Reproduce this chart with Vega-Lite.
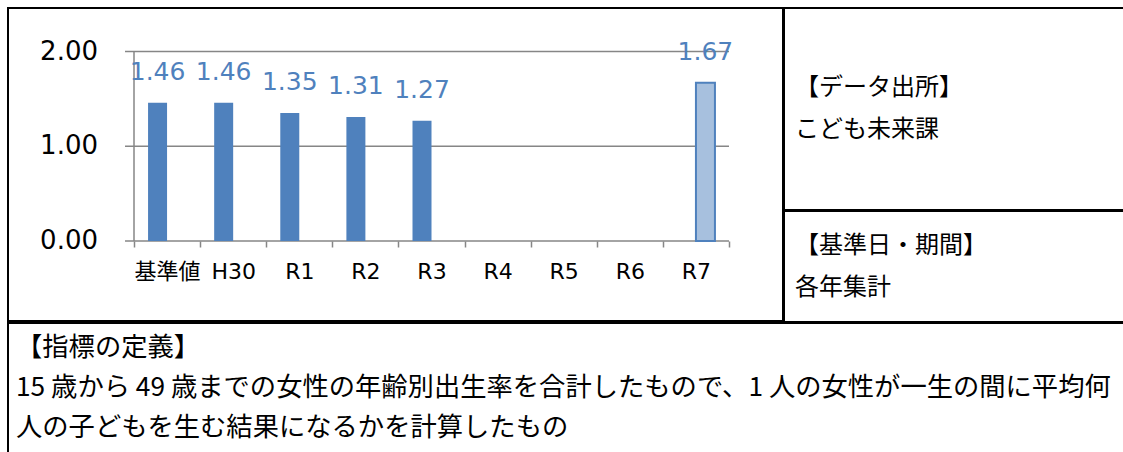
{
  "$schema": "https://vega.github.io/schema/vega-lite/v6.json",
  "padding": {"left": 7, "top": 7, "right": 0, "bottom": 0},
  "background": "white",
  "config": {
    "view": {"stroke": "#000000", "strokeWidth": 2},
    "font": "DejaVu Sans"
  },
  "datasets": {
    "tfr": [
      {"cat": "基準値", "series": "実績", "value": 1.46},
      {"cat": "H30", "series": "実績", "value": 1.46},
      {"cat": "R1", "series": "実績", "value": 1.35},
      {"cat": "R2", "series": "実績", "value": 1.31},
      {"cat": "R3", "series": "実績", "value": 1.27},
      {"cat": "R7", "series": "目標", "value": 1.67}
    ],
    "yticks": [{"g": 0}, {"g": 1}, {"g": 2}]
  },
  "spacing": -2,
  "vconcat": [
    {
      "spacing": -2,
      "hconcat": [
        {
          "width": 775,
          "height": 313,
          "resolve": {"scale": {"x": "independent"}},
          "layer": [
            {
              "data": {"name": "yticks"},
              "mark": {"type": "rule", "color": "#868686", "strokeWidth": 1.5},
              "encoding": {
                "x": {"datum": -0.0151, "type": "quantitative", "scale": {"domain": [0, 1], "range": [126, 721]}, "axis": null},
                "x2": {"datum": 1},
                "y": {"field": "g", "type": "quantitative", "scale": {"domain": [0, 2], "range": [233, 43.5], "nice": false}, "axis": null}
              }
            },
            {
              "data": {"values": [{}]},
              "mark": {"type": "rule", "color": "#868686", "strokeWidth": 1.5},
              "encoding": {
                "x": {"datum": 0, "type": "quantitative", "scale": {"domain": [0, 1], "range": [126, 721]}, "axis": null},
                "y": {"datum": 0, "type": "quantitative", "axis": null},
                "y2": {"datum": 2}
              }
            },
            {
              "data": {"name": "yticks"},
              "mark": {"type": "text", "align": "right", "baseline": "middle", "dx": -36, "fontSize": 26, "font": "DejaVu Sans", "color": "#000000"},
              "encoding": {
                "x": {"datum": 0, "type": "quantitative", "scale": {"domain": [0, 1], "range": [126, 721]}, "axis": null},
                "y": {"field": "g", "type": "quantitative", "axis": null},
                "text": {"field": "g", "type": "quantitative", "format": ".2f"}
              }
            },
            {
              "data": {"name": "tfr"},
              "mark": {"type": "bar", "stroke": "#4F81BD"},
              "encoding": {
                "x": {
                  "field": "cat", "type": "nominal", "sort": null,
                  "scale": {"domain": ["基準値", "H30", "R1", "R2", "R3", "R4", "R5", "R6", "R7"], "range": [126, 721], "paddingInner": 0, "paddingOuter": 0},
                  "axis": {
                    "orient": "bottom", "offset": -80, "domain": false, "tickBand": "extent",
                    "tickSize": 6, "tickColor": "#868686", "tickWidth": 1.5,
                    "labelPadding": 14, "labelAngle": 0, "labelFontSize": 22,
                    "labelFont": "DejaVu Sans, Noto Sans CJK JP", "labelColor": "#000000", "title": null
                  }
                },
                "xOffset": {"field": "series", "type": "nominal", "scale": {"domain": ["実績", "目標"], "paddingInner": 0, "paddingOuter": 0.74}},
                "y": {"field": "value", "type": "quantitative", "axis": null},
                "color": {"field": "series", "type": "nominal", "scale": {"domain": ["実績", "目標"], "range": ["#4F81BD", "#A7C0DE"]}, "legend": null},
                "strokeWidth": {"condition": {"test": "datum.series === '目標'", "value": 2}, "value": 0}
              }
            },
            {
              "data": {"name": "tfr"},
              "mark": {"type": "text", "baseline": "middle", "dy": -31, "fontSize": 25, "font": "DejaVu Sans", "color": "#4F81BD"},
              "encoding": {
                "x": {
                  "field": "cat", "type": "nominal", "sort": null,
                  "scale": {"domain": ["基準値", "H30", "R1", "R2", "R3", "R4", "R5", "R6", "R7"], "range": [126, 721], "paddingInner": 0, "paddingOuter": 0},
                  "axis": null
                },
                "xOffset": {"field": "series", "type": "nominal", "scale": {"domain": ["実績", "目標"], "paddingInner": 0, "paddingOuter": 0.74}},
                "y": {"field": "value", "type": "quantitative", "axis": null},
                "text": {"field": "value", "type": "quantitative", "format": ".2f"}
              }
            }
          ]
        },
        {
          "spacing": -2,
          "vconcat": [
            {
              "width": 342,
              "height": 202,
              "data": {"values": [{}]},
              "mark": {"type": "text", "text": ["【データ出所】", "こども未来課"], "align": "left", "baseline": "middle", "lineHeight": 42, "font": "Noto Sans CJK JP", "fontSize": 24, "color": "#000000", "dx": 11, "dy": -21},
              "encoding": {"x": {"datum": 0, "type": "quantitative", "scale": {"domain": [0, 1]}, "axis": null}}
            },
            {
              "width": 342,
              "height": 111,
              "data": {"values": [{}]},
              "mark": {"type": "text", "text": ["【基準日・期間】", "各年集計"], "align": "left", "baseline": "middle", "lineHeight": 42, "font": "Noto Sans CJK JP", "fontSize": 24, "color": "#000000", "dx": 11, "dy": -21},
              "encoding": {"x": {"datum": 0, "type": "quantitative", "scale": {"domain": [0, 1]}, "axis": null}}
            }
          ]
        }
      ]
    },
    {
      "width": 1117,
      "height": 140,
      "data": {"values": [{}]},
      "mark": {"type": "text", "text": ["【指標の定義】", "15 歳から 49 歳までの女性の年齢別出生率を合計したもので、1 人の女性が一生の間に平均何", "人の子どもを生む結果になるかを計算したもの"], "align": "left", "baseline": "top", "lineHeight": 40, "font": "Noto Sans CJK JP", "fontSize": 26.3, "color": "#000000", "dx": 8, "dy": 12},
      "encoding": {
        "x": {"datum": 0, "type": "quantitative", "scale": {"domain": [0, 1]}, "axis": null},
        "y": {"datum": 1, "type": "quantitative", "scale": {"domain": [0, 1]}, "axis": null}
      }
    }
  ]
}
